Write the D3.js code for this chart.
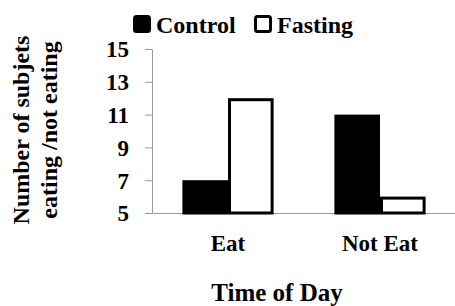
<!DOCTYPE html>
<html>
<head>
<meta charset="utf-8">
<script src="https://cdn.jsdelivr.net/npm/d3@7"></script>
<style>
  body { margin: 0; background: #fff; }
  svg { display: block; }
  svg text { font-family: 'Liberation Serif', 'Times New Roman', serif; font-weight: bold; fill: #000; }
</style>
</head>
<body>
<div id="chart"></div>
<script>
// data
const categories = ["Eat", "Not Eat"];
const seriesNames = ["Control", "Fasting"];
const controlValues = [7, 11];
const fastingValues = [12, 6];
const yTicks = [5, 7, 9, 11, 13, 15];

const W = 455, H = 306;
const margin = { top: 49, right: -1, bottom: 93, left: 152 };
const width = W - margin.left - margin.right;
const height = H - margin.top - margin.bottom;

const svg = d3.select("#chart").append("svg")
  .attr("width", W)
  .attr("height", H);

const g = svg.append("g")
  .attr("transform", `translate(${margin.left},${margin.top})`);

const x0 = d3.scaleBand().domain(categories).range([0, width]).padding(0);
const x1 = d3.scaleBand().domain(seriesNames).range([0, x0.bandwidth() * 0.6]);
const y = d3.scaleLinear().domain([5, 15]).range([height, 0]);

// y axis
const yAxis = g.append("g")
  .call(d3.axisLeft(y).tickValues(yTicks).tickSize(7).tickSizeOuter(0).tickPadding(16));
yAxis.select(".domain").attr("stroke", "#9a9a9a");
yAxis.selectAll(".tick line").attr("stroke", "#9a9a9a");
yAxis.selectAll(".tick text")
  .style("font-size", "23px")
  .attr("dy", "0.34em");

// x axis
const xAxis = g.append("g")
  .attr("transform", `translate(0,${height})`)
  .call(d3.axisBottom(x0).tickSize(0).tickPadding(22));
xAxis.select(".domain").attr("stroke", "#9a9a9a");
xAxis.selectAll(".tick text")
  .style("font-size", "23px");

// bars
const rows = categories.map((c, i) => ({ cat: c, vals: [controlValues[i], fastingValues[i]] }));
const groups = g.selectAll(".grp")
  .data(rows)
  .enter().append("g")
  .attr("class", "grp")
  .attr("transform", d => `translate(${x0(d.cat) + x0.bandwidth() * 0.2},0)`);

groups.selectAll("rect")
  .data(d => d.vals.map((v, j) => ({ key: seriesNames[j], v })))
  .enter().append("rect")
  .attr("x", d => x1(d.key) + 1.5)
  .attr("y", d => y(d.v) + 1.5)
  .attr("width", x1.bandwidth() - 3)
  .attr("height", d => y(5) - y(d.v) - 1.5)
  .attr("fill", d => d.key === "Control" ? "#000" : "#fff")
  .attr("stroke", "#000")
  .attr("stroke-width", 3);

// axis titles
svg.append("text")
  .attr("x", 277)
  .attr("y", 301)
  .attr("text-anchor", "middle")
  .style("font-size", "25px")
  .text("Time of Day");

const yTitle = svg.append("text")
  .attr("transform", "translate(0,130) rotate(-90)")
  .attr("text-anchor", "middle")
  .style("font-size", "24px");
yTitle.append("tspan").attr("x", 0).attr("y", 29).text("Number of subjets");
yTitle.append("tspan").attr("x", 0).attr("y", 57).text("eating /not eating");

// legend
const legend = svg.append("g").attr("transform", "translate(133,15)");
const legX = [0, 121];
const lg = legend.selectAll(".leg")
  .data(seriesNames)
  .enter().append("g")
  .attr("transform", (d, i) => `translate(${legX[i]},0)`);
lg.append("rect")
  .attr("x", 1.5).attr("y", 1.5)
  .attr("width", 15).attr("height", 15)
  .attr("rx", 2)
  .attr("fill", d => d === "Control" ? "#000" : "#fff")
  .attr("stroke", "#000")
  .attr("stroke-width", 3);
lg.append("text")
  .attr("x", 23)
  .attr("y", 18)
  .style("font-size", "24px")
  .text(d => d);
</script>
</body>
</html>
